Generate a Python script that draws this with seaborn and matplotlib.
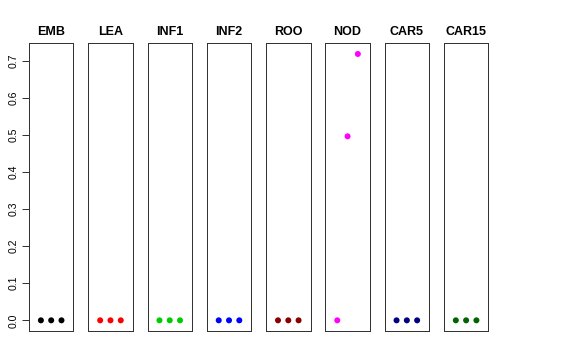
import numpy as np
import pandas as pd
import seaborn as sns
import matplotlib.pyplot as plt

tissues = ['EMB', 'LEA', 'INF1', 'INF2', 'ROO', 'NOD', 'CAR5', 'CAR15']
colors = ['black', 'red', '#00CD00', 'blue', '#8B0000', 'magenta', '#000080', '#006400']
replicate = [1, 2, 3]
values = {
    'EMB': [0.0, 0.0, 0.0],
    'LEA': [0.0, 0.0, 0.0],
    'INF1': [0.0, 0.0, 0.0],
    'INF2': [0.0, 0.0, 0.0],
    'ROO': [0.0, 0.0, 0.0],
    'NOD': [0.0, 0.496, 0.718],
    'CAR5': [0.0, 0.0, 0.0],
    'CAR15': [0.0, 0.0, 0.0],
}
yticks = [0.0, 0.1, 0.2, 0.3, 0.4, 0.5, 0.6, 0.7]

sns.set_theme(style='white')
plt.rcParams['font.family'] = ['Liberation Sans', 'DejaVu Sans']
plt.rcParams['text.color'] = 'black'
plt.rcParams['ytick.color'] = 'black'
plt.rcParams['ytick.labelcolor'] = 'black'

ymax = max(max(v) for v in values.values())
pad = 0.04 * ymax

fig, axes = plt.subplots(1, 8, figsize=(8, 5), dpi=72, sharey=True)
fig.subplots_adjust(left=0.0503, right=0.8478, top=0.8797, bottom=0.0806, wspace=0.334)

for i, (ax, t, c) in enumerate(zip(axes, tissues, colors)):
    d = pd.DataFrame({'x': replicate, 'y': values[t]})
    sns.scatterplot(data=d, x='x', y='y', ax=ax, color=c, s=36, edgecolor='none')
    ax.set_xlim(-0.16, 4.16)
    ax.set_ylim(-pad, ymax + pad)
    ax.set_title(t, fontsize=12.5, fontweight='bold', pad=8, color='black')
    ax.set_xlabel('')
    ax.set_ylabel('')
    ax.set_xticks([])
    for sp in ax.spines.values():
        sp.set_visible(True)
        sp.set_color('#333333')
        sp.set_linewidth(1)
    if i == 0:
        ax.set_yticks(yticks)
        ax.set_yticklabels([f'{v:.1f}' for v in yticks], rotation=90, va='center', fontsize=10.5)
        ax.tick_params(axis='y', left=True, length=7, width=0.8, color='black', pad=3)
    else:
        ax.tick_params(axis='y', left=False, labelleft=False)

fig.savefig('out.png', dpi=72)
